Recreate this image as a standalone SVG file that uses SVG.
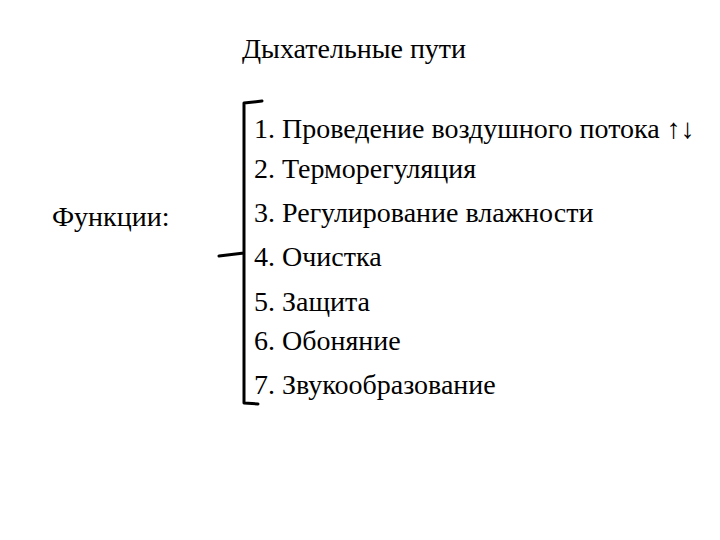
<svg xmlns="http://www.w3.org/2000/svg" width="720" height="540" viewBox="0 0 720 540">
<style>
.t{font-family:'Liberation Serif','Times New Roman',serif;font-size:28px;fill:#000}
.br{fill:none;stroke:#000;stroke-width:3;stroke-linecap:round;stroke-linejoin:round}
</style>
<rect width="720" height="540" fill="#fff"/>
<g id="title"><text class="t" x="242" y="58">Дыхательные пути</text></g>
<g id="functions"><text class="t" x="52" y="226">Функции:</text></g>
<g id="items">
<text class="t" x="254" y="138">1. Проведение воздушного потока ↑↓</text>
<text class="t" x="254" y="178">2. Терморегуляция</text>
<text class="t" x="254" y="222">3. Регулирование влажности</text>
<text class="t" x="254" y="266">4. Очистка</text>
<text class="t" x="254" y="311">5. Защита</text>
<text class="t" x="254" y="350">6. Обоняние</text>
<text class="t" x="254" y="394">7. Звукообразование</text>
</g>
<g id="connectors"><path class="br" d="M262,101 L244,103 L244,253 L219,256 M244,253 L244,403 L258,404"/></g>
</svg>
